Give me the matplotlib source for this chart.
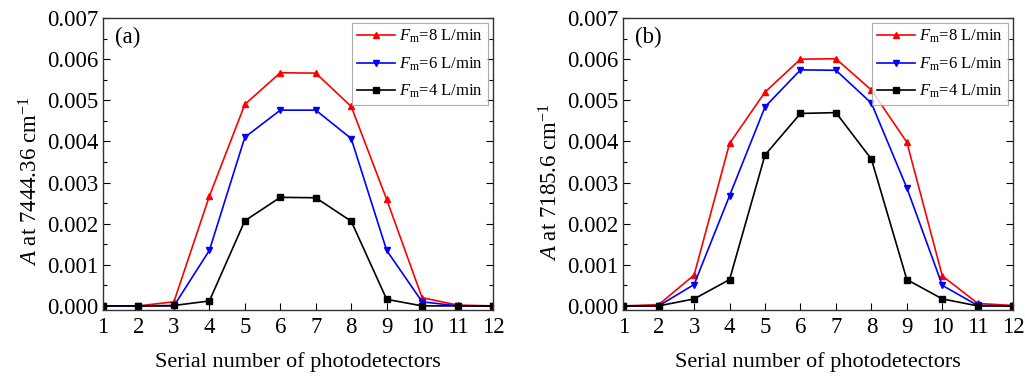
import numpy as np
import matplotlib.pyplot as plt
from matplotlib.ticker import MultipleLocator

plt.rcParams['font.family'] = 'Liberation Serif'
plt.rcParams['mathtext.fontset'] = 'custom'
plt.rcParams['mathtext.rm'] = 'Liberation Serif'
plt.rcParams['mathtext.it'] = 'Liberation Serif:italic'

# data
detectors = np.arange(1, 13)
flow_labels = [r'$F_\mathrm{m}$=8 L/min', r'$F_\mathrm{m}$=6 L/min', r'$F_\mathrm{m}$=4 L/min']

a_8 = [0.0, 0.0, 0.0001, 0.00267, 0.0049, 0.00567, 0.00566, 0.00485, 0.00259, 0.0002, 0.00002, 0.0]
a_6 = [0.0, 0.0, 0.0, 0.00135, 0.0041, 0.00476, 0.00476, 0.00407, 0.00135, 0.0001, 0.0, 0.0]
a_4 = [0.0, 0.0, 0.00001, 0.00012, 0.00207, 0.00264, 0.00263, 0.00206, 0.00016, 0.0, 0.0, 0.0]

b_8 = [0.0, 0.00003, 0.00075, 0.00395, 0.0052, 0.006, 0.00601, 0.00525, 0.00398, 0.00073, 0.00006, 0.00001]
b_6 = [0.0, 0.0, 0.00052, 0.00268, 0.00484, 0.00574, 0.00573, 0.00493, 0.00287, 0.0005, 0.00001, 0.0]
b_4 = [0.0, 0.0, 0.00017, 0.00064, 0.00367, 0.00468, 0.0047, 0.00357, 0.00064, 0.00017, 0.0, 0.0]

panels = [
    ('(a)', r'$A$ at 7444.36 cm$^{-1}$', [a_8, a_6, a_4]),
    ('(b)', r'$A$ at 7185.6 cm$^{-1}$', [b_8, b_6, b_4]),
]
colors = ['#ff0000', '#0000ff', '#000000']
markers = ['^', 'v', 's']

fig = plt.figure(figsize=(10.25, 3.76), dpi=100)
lefts = [0.1005, 0.608]

for left, (tag, ylab, series) in zip(lefts, panels):
    ax = fig.add_axes([left, 0.1755, 0.3805, 0.7765])
    for ys, c, m, lab in zip(series, colors, markers, flow_labels):
        ax.plot(detectors, ys, color=c, marker=m, markersize=5, lw=1.2,
                label=lab)
    ax.set_xlim(1, 12)
    ax.set_ylim(-0.0001, 0.007)
    ax.set_xticks(detectors)
    ax.yaxis.set_major_locator(MultipleLocator(0.001))
    ax.yaxis.set_minor_locator(MultipleLocator(0.0005))
    ax.yaxis.set_major_formatter(plt.FormatStrFormatter('%.3f'))
    ax.tick_params(direction='in', right=True, top=False, labelsize=16.5,
                   length=5, width=0.8)
    ax.tick_params(which='minor', direction='in', right=True, length=3, width=0.8)
    ax.tick_params(axis='x', pad=5)
    for s in ax.spines.values():
        s.set_color('#333333')
        s.set_linewidth(1.0)
    ax.set_xlabel('Serial number of photodetectors', fontsize=16, labelpad=10)
    ax.set_ylabel(ylab, fontsize=16.5)
    ax.yaxis.set_label_coords(-0.155, 0.44)
    ax.text(0.03, 0.915, tag, transform=ax.transAxes, fontsize=16.5)
    leg = ax.legend(loc='upper right', fontsize=12, frameon=True, fancybox=False,
                    borderaxespad=0.3, handlelength=2.3, labelspacing=0.6,
                    borderpad=0.3, handletextpad=0.25, markerscale=0.75)
    leg.get_frame().set_edgecolor('#999999')
    leg.get_frame().set_linewidth(0.8)

fig.savefig('out.png', dpi=100)
